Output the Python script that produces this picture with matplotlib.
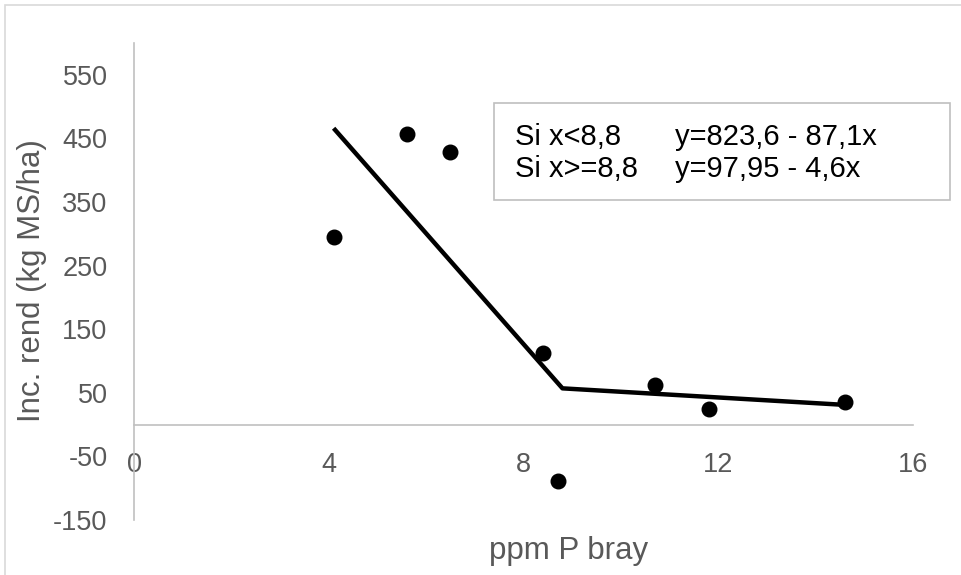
import matplotlib.pyplot as plt
from matplotlib.patches import Rectangle

plt.rcParams['font.family'] = ['Liberation Sans', 'DejaVu Sans']
plt.rcParams['axes.unicode_minus'] = False

# observed points
ppm_p = [4.1, 5.6, 6.5, 8.4, 8.7, 10.7, 11.8, 14.6]
inc_rend = [295, 457, 428, 113, -88, 63, 24, 36]

# broken-line fit
fit_x = [4.1, 8.8, 14.6]
fit_y = [466, 57, 31]

x_ticks = [0, 4, 8, 12, 16]
y_ticks = [-150, -50, 50, 150, 250, 350, 450, 550]

eq_lines = [('Si x<8,8', 'y=823,6 - 87,1x'),
            ('Si x>=8,8', 'y=97,95 - 4,6x')]

W, H = 962, 575
fig = plt.figure(figsize=(W / 100, H / 100), dpi=100)
ax = fig.add_axes([134 / W, 1 - 520 / H, 779 / W, 477 / H])

ax.plot(fit_x, fit_y, color='black', lw=3.2, solid_capstyle='butt', zorder=2)
ax.scatter(ppm_p, inc_rend, s=110, color='black', zorder=3)

ax.set_xlim(0, 16)
ax.set_ylim(-150, 600)
ax.set_xticks(x_ticks)
ax.set_yticks(y_ticks)

ax.spines['top'].set_visible(False)
ax.spines['right'].set_visible(False)
ax.spines['bottom'].set_position(('data', 0))
for s in ('left', 'bottom'):
    ax.spines[s].set_color('#c0c0c0')
    ax.spines[s].set_linewidth(1.2)

gray = '#595959'
ax.tick_params(axis='both', length=0, labelsize=19.5, labelcolor=gray)
ax.tick_params(axis='x', pad=20)
ax.tick_params(axis='y', pad=19)

fig.text(32 / W, 1 - 281 / H, 'Inc. rend (kg MS/ha)', rotation=90,
         ha='center', va='center', fontsize=22.5, color=gray)
fig.text(569 / W, 1 - 551 / H, 'ppm P bray', ha='center', va='center',
         fontsize=22.5, color=gray)

# equation box
fig.patches.append(Rectangle((494 / W, 1 - 200 / H), 456 / W, 97 / H,
                             transform=fig.transFigure, fill=False,
                             edgecolor='#bfbfbf', lw=1.2))
for i, (cond, eq) in enumerate(eq_lines):
    yy = 1 - (137 + 32 * i) / H
    fig.text(515 / W, yy, cond, ha='left', va='center', fontsize=21, color='black')
    fig.text(675 / W, yy, eq, ha='left', va='center', fontsize=21, color='black')

# outer chart border
fig.patches.append(Rectangle((5 / W, -0.05), 1.1, 1 - 5 / H + 0.05,
                             transform=fig.transFigure, fill=False,
                             edgecolor='#d9d9d9', lw=1.2))

fig.savefig('out.png', dpi=100)
